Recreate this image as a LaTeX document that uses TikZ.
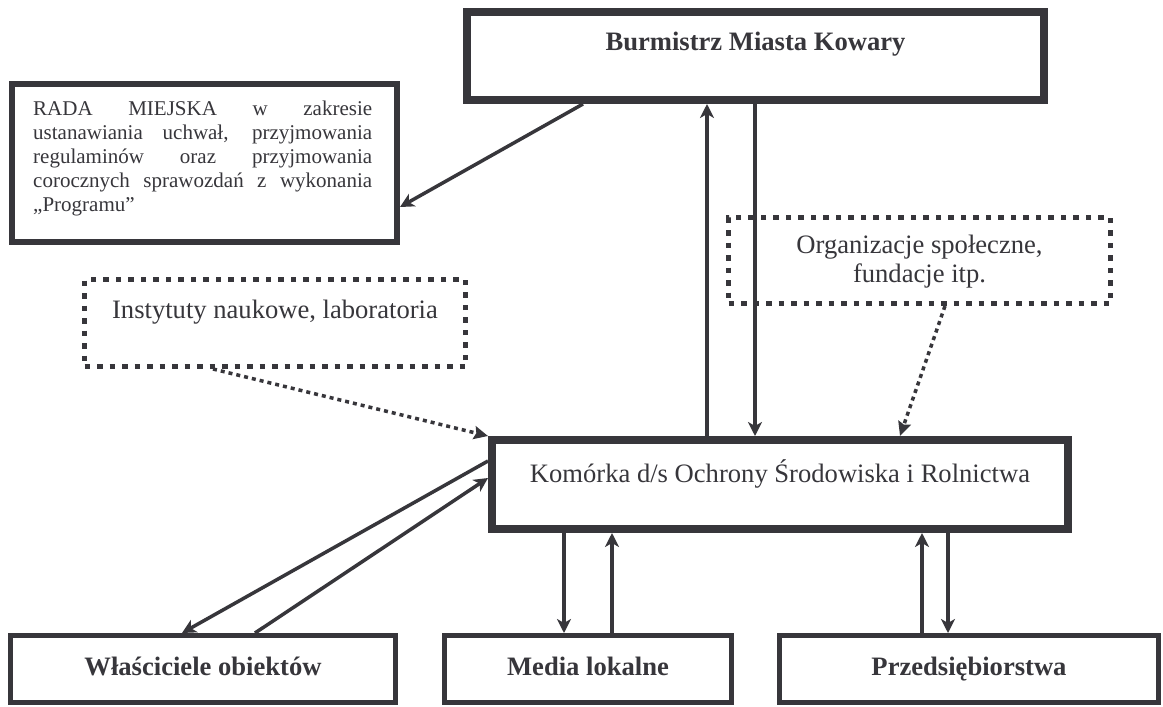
\documentclass[tikz,border=0pt]{standalone}
\usepackage{fontspec}
\setmainfont{Liberation Serif}
\usetikzlibrary{arrows.meta}
\definecolor{ink}{RGB}{55,54,59}
\begin{document}
\begin{tikzpicture}[x=1pt,y=-1pt,
 box/.style={draw=ink, rectangle, inner sep=0pt},
 heavy/.style={box, line width=8pt},
 mid/.style={box, line width=6pt},
 light/.style={box, line width=5pt},
 dotbox/.style={box, line width=5pt, dash pattern=on 5.5pt off 7pt},
 arr/.style={draw=ink, line width=3.5pt, -{Stealth[length=14pt,width=14pt,inset=4pt]}},
 darr/.style={draw=ink, line width=3.5pt, dash pattern=on 4pt off 4pt, -{Stealth[length=14pt,width=13pt,inset=2pt]}},
 big/.style={font=\fontsize{26.6}{29}\selectfont, text=ink, inner sep=0pt, anchor=base},
 bigb/.style={big, font=\fontsize{26.6}{29}\selectfont\bfseries},
]
\fill[white] (0,0) rectangle (1163,707);
\useasboundingbox (0,0) rectangle (1163,707);

% boxes
\node[heavy, minimum width=577pt, minimum height=88pt] (burm) at (755.5,56) {};
\node[mid, minimum width=385pt, minimum height=158pt] (rada) at (204.5,163) {};
\node[dotbox, minimum width=381pt, minimum height=87pt] (inst) at (275,323) {};
\node[dotbox, minimum width=382pt, minimum height=86pt] (org) at (919.5,260.5) {};
\node[heavy, minimum width=576pt, minimum height=89pt] (kom) at (780,484.5) {};
\node[light, minimum width=385pt, minimum height=67pt] (wlas) at (203,669) {};
\node[light, minimum width=287pt, minimum height=67pt] (media) at (588,669) {};
\node[light, minimum width=379pt, minimum height=67pt] (przed) at (969,669) {};

% texts (base anchor of a multi-line node = baseline of its last line)
\node[bigb] (burmT) at (755.5,50) {Burmistrz Miasta Kowary};
\node[anchor=base west, inner sep=0pt, align=left, font=\fontsize{21}{24}\selectfont, text=ink] (radaT) at (33,211)
 {\makebox[339pt][s]{RADA MIEJSKA w zakresie}\\
  \makebox[339pt][s]{ustanawiania uchwał, przyjmowania}\\
  \makebox[339pt][s]{regulaminów oraz przyjmowania}\\
  \makebox[339pt][s]{corocznych sprawozdań z wykonania}\\
  „Programu”};
\node[big] (instT) at (275,318) {Instytuty naukowe, laboratoria};
\node[big, align=center] (orgT) at (919.5,282) {Organizacje społeczne,\\fundacje itp.};
\node[big] (komT) at (780,482) {Komórka d/s Ochrony Środowiska i Rolnictwa};
\node[bigb] (wlasT) at (203,675) {Właściciele obiektów};
\node[bigb] (mediaT) at (588,675) {Media lokalne};
\node[bigb] (przedT) at (969,675) {Przedsiębiorstwa};

% helper coordinates
\coordinate (xA) at (583,0); \coordinate (yA) at (0,207);
\coordinate (xUp) at (707,0); \coordinate (xDn) at (755,0);
\coordinate (xI) at (213,0);
\coordinate (xO1) at (945,0); \coordinate (xO2) at (900,0);
\coordinate (yW1) at (0,461); \coordinate (xW1) at (182,0);
\coordinate (yW2) at (0,478); \coordinate (xW2) at (255,0);
\coordinate (xM1) at (564,0); \coordinate (xM2) at (612,0);
\coordinate (xP1) at (922,0); \coordinate (xP2) at (948,0);

% connectors
\draw[arr] (burm.south -| xA) -- (rada.east |- yA);
\draw[arr] (kom.north -| xUp) -- (burm.south -| xUp);
\draw[arr] (burm.south -| xDn) -- (kom.north -| xDn);
\draw[darr] (inst.south -| xI) -- (kom.north west);
\draw[darr] (org.south -| xO1) -- (kom.north -| xO2);
\draw[arr] (kom.west |- yW1) -- (wlas.north -| xW1);
\draw[arr] (wlas.north -| xW2) -- (kom.west |- yW2);
\draw[arr] (kom.south -| xM1) -- (media.north -| xM1);
\draw[arr] (media.north -| xM2) -- (kom.south -| xM2);
\draw[arr] (przed.north -| xP1) -- (kom.south -| xP1);
\draw[arr] (kom.south -| xP2) -- (przed.north -| xP2);
\end{tikzpicture}
\end{document}
